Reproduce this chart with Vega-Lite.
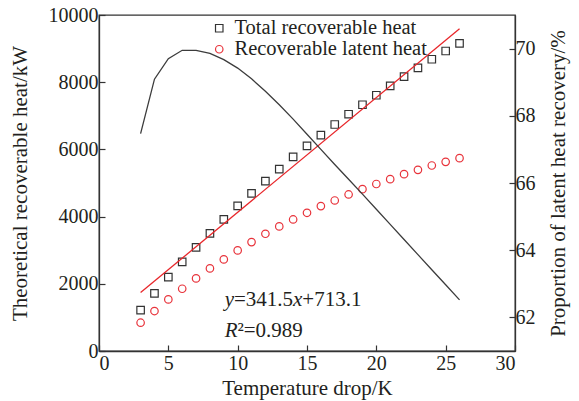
{
  "$schema": "https://vega.github.io/schema/vega-lite/v6.json",
  "width": 416,
  "height": 336,
  "autosize": {"type": "none"},
  "padding": {"left": 99, "top": 15, "right": 64, "bottom": 50},
  "background": "white",
  "config": {
    "font": "Liberation Serif",
    "view": {"stroke": "#333333", "strokeWidth": 1.3},
    "axis": {
      "grid": false,
      "domainColor": "#333333",
      "domainWidth": 1.3,
      "tickColor": "#333333",
      "tickWidth": 1.2,
      "tickSize": -6,
      "labelFont": "Liberation Serif",
      "labelFontSize": 20,
      "labelColor": "#231f20",
      "labelPadding": 7,
      "titleFont": "Liberation Serif",
      "titleFontSize": 21,
      "titleFontWeight": "normal",
      "titleColor": "#231f20"
    }
  },
  "datasets": {
    "heat": [
      {"T": 3, "kW": 1219, "series": "Total recoverable heat"},
      {"T": 4, "kW": 1716, "series": "Total recoverable heat"},
      {"T": 5, "kW": 2200, "series": "Total recoverable heat"},
      {"T": 6, "kW": 2655, "series": "Total recoverable heat"},
      {"T": 7, "kW": 3083, "series": "Total recoverable heat"},
      {"T": 8, "kW": 3500, "series": "Total recoverable heat"},
      {"T": 9, "kW": 3916, "series": "Total recoverable heat"},
      {"T": 10, "kW": 4321, "series": "Total recoverable heat"},
      {"T": 11, "kW": 4689, "series": "Total recoverable heat"},
      {"T": 12, "kW": 5055, "series": "Total recoverable heat"},
      {"T": 13, "kW": 5412, "series": "Total recoverable heat"},
      {"T": 14, "kW": 5778, "series": "Total recoverable heat"},
      {"T": 15, "kW": 6105, "series": "Total recoverable heat"},
      {"T": 16, "kW": 6423, "series": "Total recoverable heat"},
      {"T": 17, "kW": 6741, "series": "Total recoverable heat"},
      {"T": 18, "kW": 7047, "series": "Total recoverable heat"},
      {"T": 19, "kW": 7329, "series": "Total recoverable heat"},
      {"T": 20, "kW": 7612, "series": "Total recoverable heat"},
      {"T": 21, "kW": 7888, "series": "Total recoverable heat"},
      {"T": 22, "kW": 8168, "series": "Total recoverable heat"},
      {"T": 23, "kW": 8424, "series": "Total recoverable heat"},
      {"T": 24, "kW": 8683, "series": "Total recoverable heat"},
      {"T": 25, "kW": 8929, "series": "Total recoverable heat"},
      {"T": 26, "kW": 9158, "series": "Total recoverable heat"},
      {"T": 3, "kW": 842, "series": "Recoverable latent heat"},
      {"T": 4, "kW": 1189, "series": "Recoverable latent heat"},
      {"T": 5, "kW": 1536, "series": "Recoverable latent heat"},
      {"T": 6, "kW": 1853, "series": "Recoverable latent heat"},
      {"T": 7, "kW": 2160, "series": "Recoverable latent heat"},
      {"T": 8, "kW": 2458, "series": "Recoverable latent heat"},
      {"T": 9, "kW": 2725, "series": "Recoverable latent heat"},
      {"T": 10, "kW": 2993, "series": "Recoverable latent heat"},
      {"T": 11, "kW": 3241, "series": "Recoverable latent heat"},
      {"T": 12, "kW": 3489, "series": "Recoverable latent heat"},
      {"T": 13, "kW": 3707, "series": "Recoverable latent heat"},
      {"T": 14, "kW": 3915, "series": "Recoverable latent heat"},
      {"T": 15, "kW": 4113, "series": "Recoverable latent heat"},
      {"T": 16, "kW": 4312, "series": "Recoverable latent heat"},
      {"T": 17, "kW": 4480, "series": "Recoverable latent heat"},
      {"T": 18, "kW": 4659, "series": "Recoverable latent heat"},
      {"T": 19, "kW": 4817, "series": "Recoverable latent heat"},
      {"T": 20, "kW": 4970, "series": "Recoverable latent heat"},
      {"T": 21, "kW": 5114, "series": "Recoverable latent heat"},
      {"T": 22, "kW": 5263, "series": "Recoverable latent heat"},
      {"T": 23, "kW": 5391, "series": "Recoverable latent heat"},
      {"T": 24, "kW": 5521, "series": "Recoverable latent heat"},
      {"T": 25, "kW": 5629, "series": "Recoverable latent heat"},
      {"T": 26, "kW": 5739, "series": "Recoverable latent heat"}
    ],
    "fit": [
      {"T": 3, "kW": 1737.6},
      {"T": 26, "kW": 9592.1}
    ],
    "ratio": [
      {"T": 3, "pct": 67.47},
      {"T": 4, "pct": 69.09},
      {"T": 5, "pct": 69.70},
      {"T": 6, "pct": 69.95},
      {"T": 7, "pct": 69.95},
      {"T": 8, "pct": 69.86},
      {"T": 9, "pct": 69.67},
      {"T": 10, "pct": 69.42},
      {"T": 11, "pct": 69.10},
      {"T": 12, "pct": 68.73},
      {"T": 13, "pct": 68.33},
      {"T": 14, "pct": 67.90},
      {"T": 15, "pct": 67.45},
      {"T": 16, "pct": 67.00},
      {"T": 17, "pct": 66.55},
      {"T": 18, "pct": 66.11},
      {"T": 19, "pct": 65.67},
      {"T": 20, "pct": 65.22},
      {"T": 21, "pct": 64.77},
      {"T": 22, "pct": 64.32},
      {"T": 23, "pct": 63.87},
      {"T": 24, "pct": 63.42},
      {"T": 25, "pct": 62.97},
      {"T": 26, "pct": 62.52}
    ],
    "ann": [
      {"T": 9.06, "kW": 1338, "label": "y"},
      {"T": 9.06, "kW": 1338, "label": "=341.5"},
      {"T": 9.06, "kW": 1338, "label": "x"},
      {"T": 9.06, "kW": 1338, "label": "+713.1"},
      {"T": 9.06, "kW": 431, "label": "R"},
      {"T": 9.06, "kW": 431, "label": "²=0.989"}
    ]
  },
  "layer": [
    {
      "layer": [
        {
          "data": {"name": "heat"},
          "mark": {"type": "point", "filled": false, "strokeWidth": 1.2, "size": 56, "opacity": 1},
          "encoding": {
            "x": {
              "field": "T", "type": "quantitative",
              "scale": {"domain": [0, 30], "nice": false},
              "axis": {"values": [0, 5, 10, 15, 20, 25, 30], "format": "d", "title": "Temperature drop/K", "titlePadding": 4, "labelPadding": 8, "labelFont": "Liberation Serif"}
            },
            "y": {
              "field": "kW", "type": "quantitative",
              "scale": {"domain": [0, 10000], "nice": false},
              "axis": {"orient": "left", "values": [0, 2000, 4000, 6000, 8000, 10000], "format": "d", "title": "Theoretical recoverable heat/kW", "titlePadding": 18, "labelPadding": 7, "labelFont": "Liberation Serif"}
            },
            "shape": {
              "field": "series", "type": "nominal",
              "scale": {"domain": ["Total recoverable heat", "Recoverable latent heat"], "range": ["square", "circle"]},
              "legend": {
                "title": null, "orient": "none", "legendX": 110, "legendY": 3,
                "labelFont": "Liberation Serif", "labelFontSize": 20.5, "labelColor": "#231f20", "labelLimit": 400,
                "symbolSize": 56, "symbolStrokeWidth": 1.2, "labelOffset": 5, "rowPadding": 0, "padding": 0
              }
            },
            "stroke": {
              "field": "series", "type": "nominal",
              "scale": {"domain": ["Total recoverable heat", "Recoverable latent heat"], "range": ["#333333", "#e8333b"]},
              "legend": {
                "title": null, "orient": "none", "legendX": 110, "legendY": 3,
                "labelFont": "Liberation Serif", "labelFontSize": 20.5, "labelColor": "#231f20", "labelLimit": 400,
                "symbolSize": 56, "symbolStrokeWidth": 1.2, "labelOffset": 5, "rowPadding": 0, "padding": 0
              }
            }
          }
        },
        {
          "data": {"name": "fit"},
          "mark": {"type": "line", "color": "#e8262a", "strokeWidth": 1.3},
          "encoding": {
            "x": {"field": "T", "type": "quantitative"},
            "y": {"field": "kW", "type": "quantitative"}
          }
        },
        {
          "data": {"name": "ann"},
          "transform": [{"filter": "datum.label === 'y'"}],
          "mark": {"type": "text", "align": "left", "baseline": "alphabetic", "font": "Liberation Serif", "fontSize": 21, "fontStyle": "italic", "color": "#231f20", "dx": 0},
          "encoding": {
            "x": {"field": "T", "type": "quantitative"},
            "y": {"field": "kW", "type": "quantitative"},
            "text": {"field": "label"}
          }
        },
        {
          "data": {"name": "ann"},
          "transform": [{"filter": "datum.label === '=341.5'"}],
          "mark": {"type": "text", "align": "left", "baseline": "alphabetic", "font": "Liberation Serif", "fontSize": 21, "color": "#231f20", "dx": 9.3},
          "encoding": {
            "x": {"field": "T", "type": "quantitative"},
            "y": {"field": "kW", "type": "quantitative"},
            "text": {"field": "label"}
          }
        },
        {
          "data": {"name": "ann"},
          "transform": [{"filter": "datum.label === 'x'"}],
          "mark": {"type": "text", "align": "left", "baseline": "alphabetic", "font": "Liberation Serif", "fontSize": 21, "fontStyle": "italic", "color": "#231f20", "dx": 68.4},
          "encoding": {
            "x": {"field": "T", "type": "quantitative"},
            "y": {"field": "kW", "type": "quantitative"},
            "text": {"field": "label"}
          }
        },
        {
          "data": {"name": "ann"},
          "transform": [{"filter": "datum.label === '+713.1'"}],
          "mark": {"type": "text", "align": "left", "baseline": "alphabetic", "font": "Liberation Serif", "fontSize": 21, "color": "#231f20", "dx": 77.7},
          "encoding": {
            "x": {"field": "T", "type": "quantitative"},
            "y": {"field": "kW", "type": "quantitative"},
            "text": {"field": "label"}
          }
        },
        {
          "data": {"name": "ann"},
          "transform": [{"filter": "datum.label === 'R'"}],
          "mark": {"type": "text", "align": "left", "baseline": "alphabetic", "font": "Liberation Serif", "fontSize": 21, "fontStyle": "italic", "color": "#231f20", "dx": 0},
          "encoding": {
            "x": {"field": "T", "type": "quantitative"},
            "y": {"field": "kW", "type": "quantitative"},
            "text": {"field": "label"}
          }
        },
        {
          "data": {"name": "ann"},
          "transform": [{"filter": "datum.label === '²=0.989'"}],
          "mark": {"type": "text", "align": "left", "baseline": "alphabetic", "font": "Liberation Serif", "fontSize": 21, "color": "#231f20", "dx": 12.8},
          "encoding": {
            "x": {"field": "T", "type": "quantitative"},
            "y": {"field": "kW", "type": "quantitative"},
            "text": {"field": "label"}
          }
        }
      ]
    },
    {
      "data": {"name": "ratio"},
      "mark": {"type": "line", "color": "#3c3c3c", "strokeWidth": 1.3},
      "encoding": {
        "x": {"field": "T", "type": "quantitative"},
        "y": {
          "field": "pct", "type": "quantitative",
          "scale": {"domain": [61, 71], "nice": false, "zero": false},
          "axis": {"orient": "right", "values": [62, 64, 66, 68, 70], "format": "d", "title": "Proportion of latent heat recovery/%", "titleAngle": -90, "titlePadding": 33, "labelPadding": 6, "labelFont": "Liberation Serif"}
        }
      }
    }
  ],
  "resolve": {"scale": {"y": "independent"}}
}
